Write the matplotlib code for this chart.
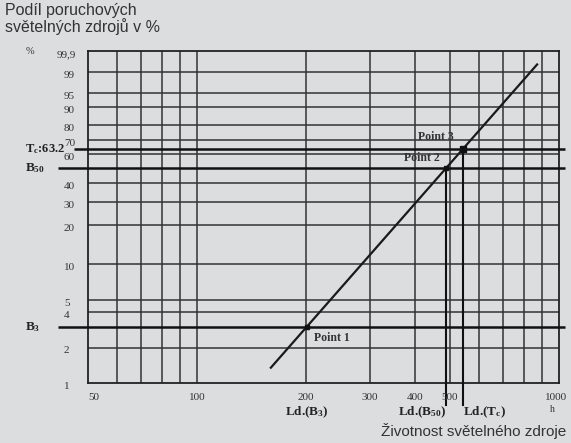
import numpy as np
import matplotlib
matplotlib.use("Agg")
import matplotlib.pyplot as plt
import matplotlib.transforms as mtransforms

# ---- data ----
xtick_vals = [50, 100, 200, 300, 400, 500, 1000]
xtick_labels = ["50", "100", "200", "300", "400", "500", "1000"]
xgrid_vals = [60, 70, 80, 90, 100, 200, 300, 400, 500, 600, 700, 800, 900]
ytick_vals = [99.9, 99, 95, 90, 80, 70, 60, 40, 30, 20, 10, 5, 4, 2, 1]
ytick_labels = ["99,9", "99", "95", "90", "80", "70", "60", "40", "30", "20", "10", "5", "4", "2", "1"]
ygrid_vals = [99, 95, 90, 80, 70, 60, 40, 30, 20, 10, 5, 4, 2]
level_vals = [63.2, 50, 3]            # Tc, B50, B3
line_x = [160, 870]
line_y = [1.35, 99.5]
point_x = [201, 488, 542]
point_y = [3, 50, 63.2]
point_labels = ["Point 1", "Point 2", "Point 3"]

W, H = 571, 443
BG = "#dcdddf"
INK = "#222222"

plt.rcParams["mathtext.fontset"] = "custom"
plt.rcParams["mathtext.rm"] = "Liberation Serif:bold"
plt.rcParams["mathtext.bf"] = "Liberation Serif:bold"
plt.rcParams["mathtext.it"] = "Liberation Serif:bold"

fig = plt.figure(figsize=(W / 100, H / 100), dpi=100, facecolor=BG)
L, R, T, B = 88, 559, 51, 383
ax = fig.add_axes([L / W, 1 - B / H, (R - L) / W, (B - T) / H])
ax.set_facecolor(BG)


def fwd(F):
    F = np.clip(np.asarray(F, dtype=float), 1e-6, 100 - 1e-9)
    return np.log(-np.log(1 - F / 100.0))


def inv(y):
    return 100.0 * (1 - np.exp(-np.exp(np.asarray(y, dtype=float))))


ax.set_xscale("log")
ax.set_yscale("function", functions=(fwd, inv))
ax.set_xlim(50, 1000)
ax.set_ylim(1, 99.9)
ax.set_xticks([])
ax.set_yticks([])
ax.xaxis.set_minor_locator(matplotlib.ticker.NullLocator())
ax.yaxis.set_minor_locator(matplotlib.ticker.NullLocator())

for s in ax.spines.values():
    s.set_color(INK)
    s.set_linewidth(1.3)

for xv in xgrid_vals:
    ax.axvline(xv, color="#333333", lw=1.1, zorder=1)
for yv in ygrid_vals:
    ax.axhline(yv, color="#333333", lw=1.1, zorder=1)

# thick level lines
bt = mtransforms.blended_transform_factory(ax.transAxes, ax.transData)
starts = [(74 - L) / (R - L), (58 - L) / (R - L), (58 - L) / (R - L)]
end = (565 - L) / (R - L)
for lv, st in zip(level_vals, starts):
    ax.plot([st, end], [lv, lv], transform=bt, color="#111111", lw=1.8,
            clip_on=False, zorder=3, solid_capstyle="butt")

# Weibull line
ax.plot(line_x, line_y, color="#1a1a1a", lw=1.6, zorder=4)

# points
ax.plot(point_x[:2], point_y[:2], "s", color="#111111", ms=3, zorder=5)
ax.plot(point_x[2:], point_y[2:], "s", color="#111111", ms=5, zorder=5)

# vertical Ld lines for points 2 and 3
bx = mtransforms.blended_transform_factory(ax.transData, ax.transAxes)
below = -(405 - B) / (B - T)
for px, py in zip(point_x[1:], point_y[1:]):
    ax.plot([px, px], [py, 1], color="#111111", lw=1.5, zorder=3)
    ax.plot([px, px], [0, below], transform=bx, color="#111111", lw=1.5,
            clip_on=False, zorder=3)

# point labels
serif = "Liberation Serif"
ax.annotate(point_labels[0], (point_x[0], point_y[0]), xytext=(5, -8),
            textcoords="offset points", fontsize=8.5, fontweight="bold",
            family=serif, color="#333333", ha="left", va="center")
ax.annotate(point_labels[1], (point_x[1], point_y[1]), xytext=(-5, 7),
            textcoords="offset points", fontsize=8.5, fontweight="bold",
            family=serif, color="#333333", ha="right", va="center")
ax.annotate(point_labels[2], (point_x[2], point_y[2]), xytext=(-19, 9),
            textcoords="offset points", fontsize=8.5, fontweight="bold",
            family=serif, color="#333333", ha="center", va="center")

# y tick labels (slightly below their lines, as in the scan)
down = mtransforms.ScaledTranslation(0, -2.5 / 72, fig.dpi_scale_trans)
for v, lab in zip(ytick_vals, ytick_labels):
    xpos = (57 - L) / (R - L) if lab == "99,9" else (64 - L) / (R - L)
    ax.text(xpos, v, lab, transform=bt + down, fontsize=8, family=serif,
            color="#333333", ha="left", va="center")
ax.text((26 - L) / (R - L), 99.9, "%", transform=bt, fontsize=7.5,
        family=serif, color="#333333", ha="left", va="center")

# x tick labels
ylab = -(398 - B) / (B - T)
left_shift = mtransforms.ScaledTranslation(-3 / 100, 0, fig.dpi_scale_trans)
for v, lab in zip(xtick_vals, xtick_labels):
    tr = bx + left_shift if v == xtick_vals[-1] else bx
    ax.text(v, ylab, lab, transform=tr, fontsize=8, family=serif,
            color="#333333", ha="left" if v == xtick_vals[0] else "center",
            va="center")
ax.text((552 - L) / (R - L), -(410 - B) / (B - T), "h", transform=ax.transAxes,
        fontsize=7, family=serif, color="#333333", ha="center", va="center")

# level labels at left
lx = (25 - L) / (R - L)
for lv, lab, fs in zip(level_vals, [r"T$_{\rm c}$:63.2", r"B$_{50}$", r"B$_{3}$"], [9, 9.5, 9.5]):
    ax.text(lx, lv, lab, transform=bt, fontsize=fs, fontweight="bold",
            family=serif, color="#222222", ha="left", va="center")

# Ld labels under the axis
yld = -(412 - B) / (B - T)
ax.text(point_x[0], yld, r"Ld.(B$_{3}$)", transform=bx, fontsize=9.5,
        fontweight="bold", family=serif, color="#222222", ha="center", va="center")
ax.text(point_x[1], yld, r"Ld.(B$_{50}$)", transform=bx, fontsize=9.5,
        fontweight="bold", family=serif, color="#222222", ha="right", va="center")
ax.text(point_x[2], yld, r"Ld.(T$_{\rm c}$)", transform=bx, fontsize=9.5,
        fontweight="bold", family=serif, color="#222222", ha="left", va="center")

# titles
sans = ["Liberation Sans", "DejaVu Sans"]
fig.text(5 / W, 1 - 3 / H, "Podíl poruchových\nsvětelných zdrojů v %",
         fontsize=11.5, family=sans, color="#333333", ha="left", va="top",
         linespacing=1.0)
fig.text(566 / W, 1 - 431 / H, "Životnost světelného zdroje", fontsize=11,
         family=sans, color="#333333", ha="right", va="center")

fig.savefig("out.png", dpi=100, facecolor=BG)
